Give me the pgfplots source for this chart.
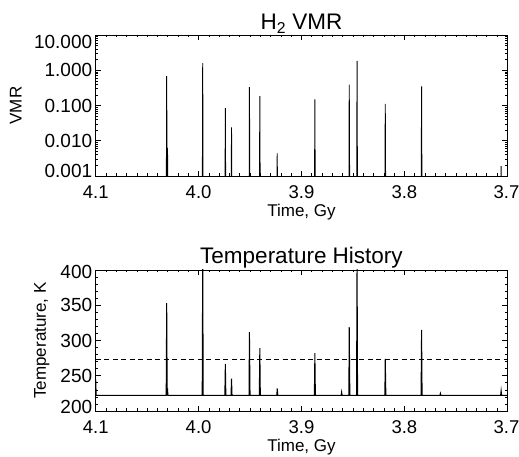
\documentclass[border=0pt]{standalone}
\usepackage{pgfplots}
\pgfplotsset{compat=1.18}
\usepackage{fontspec}
\setmainfont{Liberation Sans}
\pgfplotstableset{col sep=space}
\begin{document}
\begin{tikzpicture}[x=1pt,y=1pt]
\useasboundingbox (0,0) rectangle (519,457);
\pgfplotsset{
 common/.style={
  scale only axis, width=411.6pt, height=141pt,
  x dir=reverse, xmin=3.7, xmax=4.1,
  xtick={3.7,3.8,3.9,4.0,4.1}, xticklabels={\hspace*{-1.5pt}3.7,3.8,3.9,4.0,4.1},
  minor x tick num=9,
  tick align=inside, major tick length=5pt, minor tick length=2.5pt,
  tick style={black, line width=0.6pt},
  axis line style={line width=0.9pt},
  xticklabel style={font=\fontsize{18.5}{21}\selectfont, yshift=-6pt},
  yticklabel style={font=\fontsize{19}{21}\selectfont},
  label style={font=\fontsize{17}{19}\selectfont},
  title style={font=\fontsize{22.5}{24}\selectfont, yshift=-8pt},
  xlabel={Time, Gy},
  xlabel style={at={(axis description cs:0.5,0)}, anchor=center, yshift=-36pt},
  clip=true,
 }
}
\begin{axis}[common, at={(95.7pt,281pt)}, anchor=south west,
  ymode=log, ymin=1e-3, ymax=10,
  ytick={1e-3,1e-2,1e-1,1,10},
  yticklabels={\raisebox{-1.7pt}[0pt][0pt]{0.001},0.010,0.100,1.000,\raisebox{-13.7pt}[0pt][0pt]{10.000}},
  ylabel={VMR},
  ylabel style={at={(axis description cs:0,0.5)}, anchor=center, yshift=80pt},
  title={H\textsubscript{2} VMR},
]
\addplot[black, line width=0.9pt] table[x=t, y=v] {
t v
4.1 1e-5
4.0315 1e-5
4.031 0.68
4.0305 1e-5
4.0302 0.0063
4.0298 1e-5
3.9965 1e-5
3.996 1.6
3.9955 1e-5
3.9745 1e-5
3.974 0.084
3.9735 1e-5
3.9685 1e-5
3.968 0.024
3.9675 1e-5
3.951 1e-5
3.9506 0.33
3.950 1e-5
3.941 1e-5
3.9405 0.185
3.940 1e-5
3.924 1e-5
3.9236 0.0044
3.923 1e-5
3.8875 1e-5
3.887 0.148
3.8865 1e-5
3.854 1e-5
3.8536 0.39
3.853 1e-5
3.8465 1e-5
3.846 1.83
3.8455 1e-5
3.819 1e-5
3.8186 0.112
3.818 1e-5
3.7838 1e-5
3.7833 0.35
3.7828 1e-5
3.7065 1e-5
3.706 0.0019
3.7055 1e-5
3.7 1e-5
};
\end{axis}
\begin{axis}[common, at={(95.7pt,46pt)}, anchor=south west,
  ymin=200, ymax=400,
  ytick={200,250,300,350,400},
  yticklabels={\raisebox{-2.7pt}[0pt][0pt]{200},250,300,350,\raisebox{-8.7pt}[0pt][0pt]{400}},
  minor y tick num=4,
  ylabel={Temperature, K},
  ylabel style={at={(axis description cs:0,0.5)}, anchor=center, yshift=54pt},
  title={Temperature History},
]
\addplot[black, line width=1pt] table[x=t, y=T] {
t T
4.1 245
4.0995 222
4.0315 222
4.031 353
4.0305 222
4.0302 232
4.0298 222
3.9965 222
3.996 420
3.9955 222
3.9745 222
3.974 267
3.9735 222
3.9685 222
3.968 246
3.9675 222
3.951 222
3.9506 312
3.950 222
3.941 222
3.9405 289
3.940 222
3.924 222
3.9236 232
3.923 222
3.8875 222
3.887 282
3.8865 222
3.8615 222
3.861 227
3.8605 222
3.854 222
3.8536 319
3.853 222
3.8465 222
3.846 420
3.8455 222
3.819 222
3.8186 274
3.818 222
3.7838 222
3.7833 315
3.7828 222
3.7655 222
3.765 225
3.7645 222
3.7065 222
3.706 229
3.7055 222
3.7 222
};
\addplot[black, line width=0.9pt, dash pattern=on 5pt off 3.5pt] table[x=t, y=T] {
t T
4.1 273
3.7 273
};
\end{axis}
\end{tikzpicture}
\end{document}
